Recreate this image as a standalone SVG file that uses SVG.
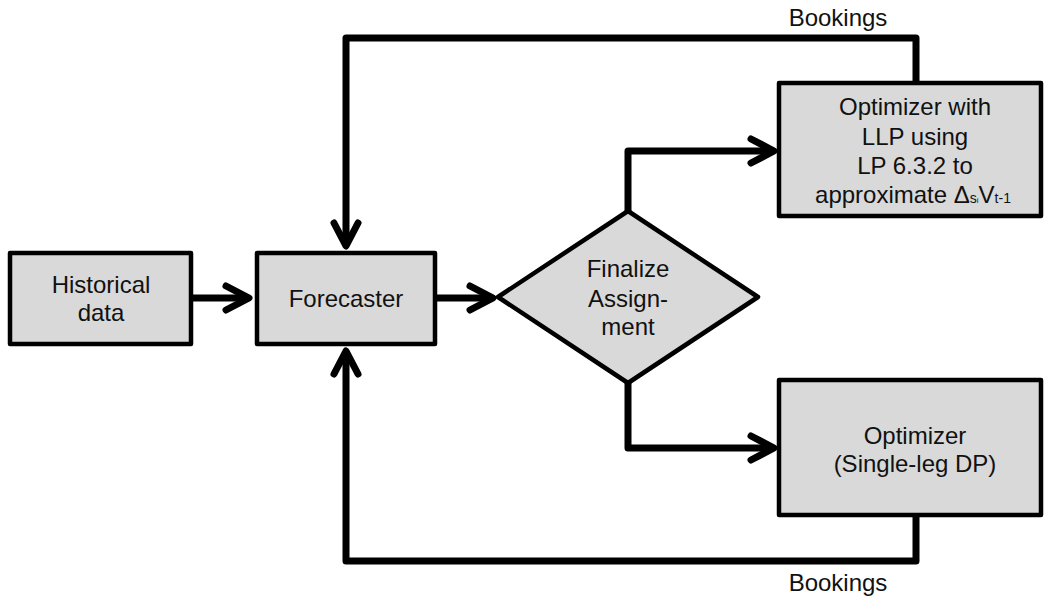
<svg xmlns="http://www.w3.org/2000/svg" width="1044" height="598" viewBox="0 0 1044 598">
<style>
.box{fill:#d9d9d9;stroke:#000;stroke-width:4.5;stroke-linejoin:round}
.conn{fill:none;stroke:#000;stroke-width:7;stroke-linejoin:round;stroke-linecap:butt}
.t{font-family:"Liberation Sans",Arial,sans-serif;font-size:24px;fill:#111;text-anchor:middle}
</style>
<defs>
<marker id="arr" markerUnits="userSpaceOnUse" viewBox="-30 -18 36 36" markerWidth="36" markerHeight="36" refX="0" refY="0" orient="auto" overflow="visible">
<path d="M-23,-12 L0,0 L-23,12" fill="none" stroke="#000" stroke-width="7" stroke-linecap="round" stroke-linejoin="round"/>
</marker>
</defs>
<rect width="1044" height="598" fill="#fff"/>
<g id="connectors">
<path class="conn" d="M191,298 H249" marker-end="url(#arr)"/>
<path class="conn" d="M435,298 H493" marker-end="url(#arr)"/>
<path class="conn" d="M628,211 V151 H774" marker-end="url(#arr)"/>
<path class="conn" d="M628,383 V448 H774" marker-end="url(#arr)"/>
<path class="conn" d="M916,81 V38 H346 V246" marker-end="url(#arr)"/>
<path class="conn" d="M916,517 V561 H346 V351" marker-end="url(#arr)"/>
<text class="t" x="838" y="26">Bookings</text>
<text class="t" x="838" y="591">Bookings</text>
</g>
<g id="historical">
<rect class="box" x="10" y="253" width="181" height="91"/>
<text class="t" x="101" y="293">Historical</text>
<text class="t" x="101" y="321">data</text>
</g>
<g id="forecaster">
<rect class="box" x="257" y="253" width="178" height="91"/>
<text class="t" x="346" y="307">Forecaster</text>
</g>
<g id="finalize">
<polygon class="box" points="628,211 758,297 628,383 498,297"/>
<text class="t" x="628" y="277">Finalize</text>
<text class="t" x="628" y="307">Assign-</text>
<text class="t" x="628" y="335">ment</text>
</g>
<g id="optimizer-llp">
<rect class="box" x="779" y="83" width="262" height="133"/>
<text class="t" x="915" y="115">Optimizer with</text>
<text class="t" x="915" y="145">LLP using</text>
<text class="t" x="915" y="174">LP 6.3.2 to</text>
<text class="t" x="913" y="203">approximate Δ<tspan font-size="14">s</tspan><tspan font-size="8">i</tspan>V<tspan font-size="14">t-1</tspan></text>
</g>
<g id="optimizer-dp">
<rect class="box" x="779" y="380" width="262" height="135"/>
<text class="t" x="915" y="444">Optimizer</text>
<text class="t" x="915" y="472">(Single-leg DP)</text>
</g>
</svg>
